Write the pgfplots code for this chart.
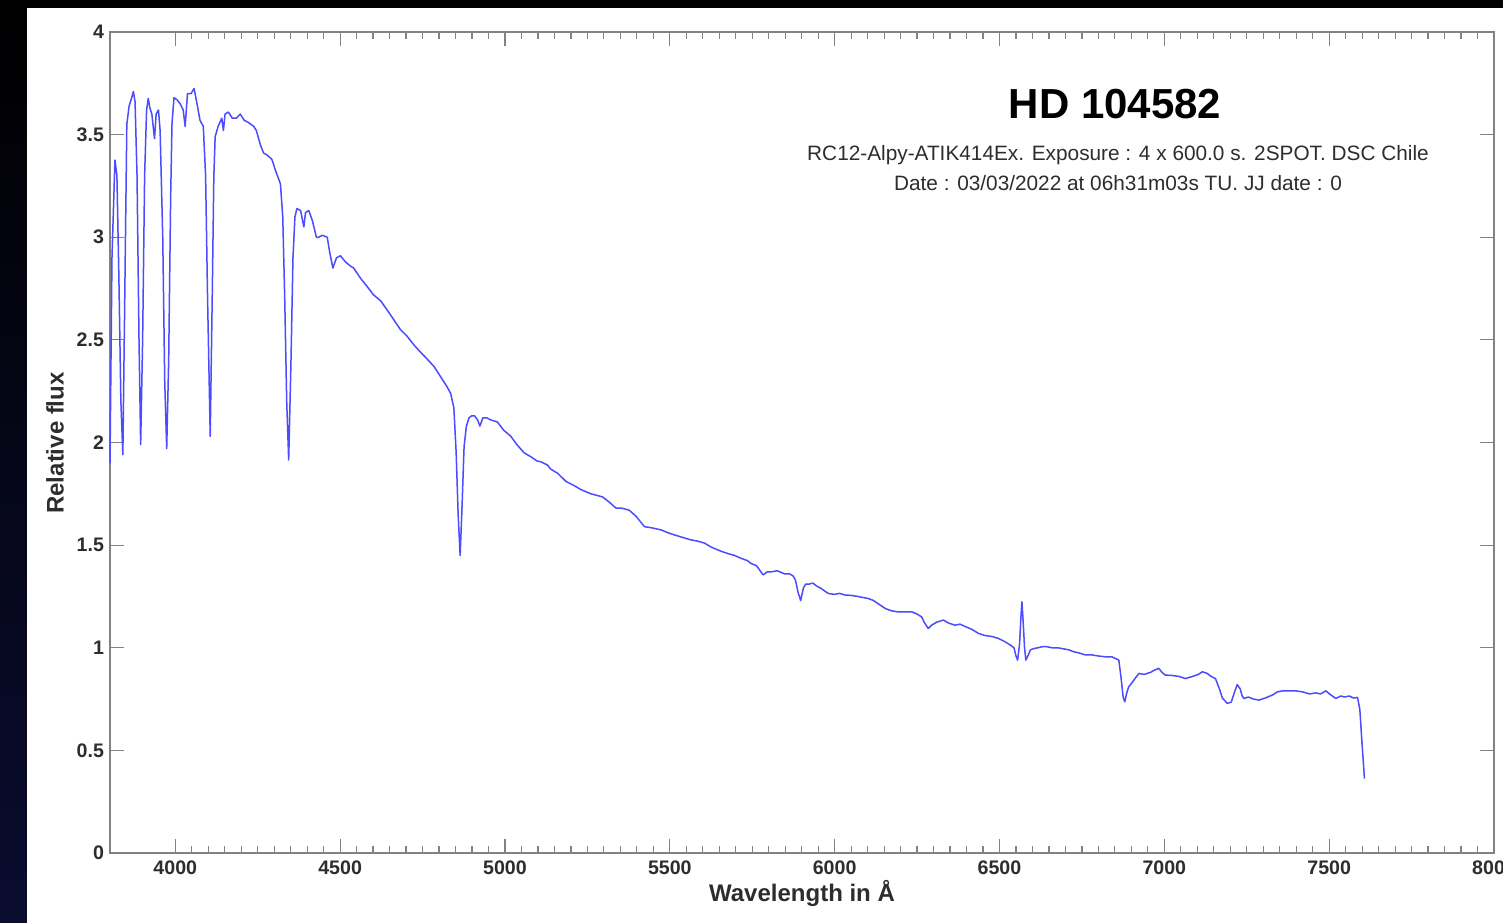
\documentclass[border=0pt]{standalone}
\usepackage{pgfplots}
\pgfplotsset{compat=1.18}
\usepackage{fontspec}
\setmainfont{Liberation Sans}
\definecolor{specblue}{RGB}{75,75,255}
\definecolor{axgray}{RGB}{130,130,130}
\definecolor{txtgray}{RGB}{45,45,45}
\definecolor{navy}{RGB}{10,12,48}
\begin{document}
\begin{tikzpicture}
\path[use as bounding box] (-55pt,-34.5pt) rectangle (696.5pt,426.5pt);
\fill[black] (-55pt,-34.5pt) rectangle (696.5pt,426.5pt);
\shade[top color=black, bottom color=navy] (-55pt,-34.5pt) rectangle (-41.5pt,426.5pt);
\fill[white] (-41.5pt,-34.5pt) rectangle (696.5pt,422.5pt);
\begin{axis}[
  scale only axis,
  width=692pt, height=410.5pt,
  xmin=3802, xmax=8000, ymin=0, ymax=4,
  xtick={4000,4500,5000,5500,6000,6500,7000,7500,8000},
  ytick={0,0.5,1,1.5,2,2.5,3,3.5,4},
  yticklabels={0,0.5,1,1.5,2,2.5,3,3.5,4},
  xticklabels={4000,4500,5000,5500,6000,6500,7000,7500,8000},
  minor x tick num=9,
  tick align=inside,
  major tick length=7pt,
  minor tick length=3.5pt,
  tick style={axgray, line width=0.6pt},
  axis line style={axgray, line width=0.9pt},
  ticklabel style={font=\fontsize{9.8}{11}\selectfont\bfseries, text=txtgray},
  xticklabel style={yshift=-0.5pt},
  yticklabel style={xshift=0.5pt},
  xlabel={Wavelength in Å},
  ylabel={Relative flux},
  label style={font=\fontsize{12}{14}\selectfont\bfseries, text=txtgray},
  xlabel style={at={(axis description cs:0.5,-0.0487)}, anchor=center},
  ylabel style={at={(axis description cs:-0.0397,0.4994)}, anchor=center, rotate=0},
  clip=false,
]
\addplot[specblue, line width=0.75pt, line join=round] coordinates {
(3802,1.90) (3808,2.90) (3817,3.376) (3823,3.30) (3829,2.80) (3835,2.20) (3841,1.94) (3846,2.60)
(3853,3.55) (3860,3.64) (3866,3.67) (3873,3.71) (3878,3.66) (3884,3.30) (3890,2.50) (3895,1.99)
(3901,2.50) (3907,3.30) (3913,3.62) (3918,3.676) (3923,3.63) (3929,3.60) (3937,3.48) (3942,3.60)
(3949,3.62) (3954,3.52) (3962,3.00) (3968,2.30) (3974,1.97) (3980,2.40) (3986,3.20) (3990,3.55)
(3996,3.68) (4005,3.67) (4015,3.65) (4024,3.62) (4030,3.54) (4037,3.70) (4048,3.70) (4057,3.725)
(4066,3.65) (4075,3.57) (4085,3.54) (4092,3.30) (4098,2.70) (4106,2.03) (4112,2.70) (4117,3.30)
(4121,3.49) (4130,3.54) (4141,3.58) (4146,3.52) (4151,3.60) (4161,3.61) (4173,3.58) (4185,3.58)
(4197,3.60) (4209,3.57) (4221,3.56) (4238,3.54) (4246,3.52) (4258,3.45) (4268,3.41) (4279,3.40)
(4293,3.38) (4303,3.33) (4319,3.26) (4326,3.10) (4332,2.70) (4338,2.20) (4344,1.915) (4351,2.40)
(4357,2.90) (4363,3.10) (4369,3.14) (4380,3.13) (4390,3.05) (4395,3.12) (4405,3.13) (4416,3.08)
(4428,3.00) (4435,3.00) (4446,3.01) (4461,3.00) (4468,2.93) (4478,2.85) (4489,2.90) (4501,2.91)
(4516,2.88) (4531,2.86) (4541,2.85) (4562,2.80) (4582,2.76) (4601,2.72) (4623,2.69) (4643,2.645)
(4662,2.60) (4683,2.55) (4702,2.52) (4724,2.475) (4744,2.44) (4762,2.41) (4785,2.37) (4805,2.32)
(4825,2.27) (4835,2.24) (4845,2.17) (4852,1.95) (4858,1.65) (4864,1.45) (4869,1.65) (4876,1.98)
(4883,2.08) (4891,2.12) (4899,2.13) (4908,2.13) (4917,2.11) (4924,2.08) (4933,2.12) (4945,2.12)
(4957,2.11) (4977,2.10) (4996,2.06) (5018,2.03) (5036,1.99) (5058,1.95) (5079,1.93) (5097,1.91)
(5109,1.906) (5129,1.89) (5139,1.87) (5160,1.85) (5185,1.81) (5210,1.79) (5231,1.77) (5261,1.75)
(5296,1.735) (5316,1.71) (5337,1.68) (5355,1.68) (5377,1.67) (5398,1.64) (5423,1.59) (5443,1.585)
(5474,1.574) (5495,1.56) (5514,1.55) (5534,1.54) (5565,1.525) (5583,1.52) (5605,1.51) (5626,1.49)
(5656,1.47) (5674,1.46) (5696,1.45) (5717,1.435) (5735,1.425) (5747,1.41) (5763,1.40) (5783,1.355)
(5796,1.37) (5808,1.37) (5826,1.375) (5848,1.36) (5863,1.36) (5874,1.35) (5881,1.33) (5889,1.27)
(5897,1.23) (5905,1.29) (5912,1.31) (5922,1.31) (5934,1.315) (5946,1.30) (5958,1.29) (5980,1.265)
(5999,1.26) (6015,1.265) (6031,1.257) (6051,1.255) (6070,1.25) (6085,1.245) (6102,1.24) (6118,1.23)
(6136,1.21) (6155,1.19) (6173,1.18) (6191,1.175) (6212,1.175) (6234,1.175) (6249,1.165) (6264,1.15)
(6273,1.12) (6284,1.094) (6294,1.11) (6310,1.125) (6330,1.135) (6346,1.12) (6365,1.11) (6380,1.115)
(6401,1.10) (6416,1.09) (6436,1.07) (6455,1.06) (6477,1.055) (6497,1.045) (6516,1.03) (6531,1.015)
(6544,1.00) (6550,0.96) (6555,0.94) (6561,1.02) (6565,1.15) (6568,1.224) (6571,1.15) (6576,1.00)
(6580,0.94) (6586,0.96) (6594,0.99) (6604,0.996) (6617,1.00) (6629,1.005) (6644,1.005) (6659,1.00)
(6677,1.00) (6693,0.995) (6710,0.99) (6726,0.98) (6741,0.975) (6760,0.965) (6781,0.965) (6799,0.96)
(6821,0.956) (6842,0.955) (6862,0.94) (6869,0.85) (6875,0.76) (6880,0.737) (6886,0.78) (6892,0.81)
(6902,0.83) (6911,0.85) (6923,0.875) (6939,0.87) (6958,0.88) (6969,0.89) (6983,0.90) (6993,0.88)
(7003,0.867) (7024,0.865) (7045,0.86) (7064,0.85) (7085,0.86) (7103,0.87) (7115,0.883) (7130,0.875)
(7142,0.86) (7155,0.85) (7167,0.80) (7176,0.755) (7191,0.729) (7203,0.735) (7212,0.78) (7221,0.82)
(7230,0.80) (7236,0.765) (7242,0.753) (7255,0.76) (7270,0.75) (7287,0.745) (7306,0.755) (7328,0.77)
(7343,0.785) (7358,0.79) (7380,0.79) (7399,0.79) (7419,0.785) (7440,0.775) (7459,0.78) (7474,0.775)
(7490,0.79) (7501,0.775) (7520,0.753) (7535,0.765) (7547,0.76) (7561,0.765) (7574,0.755) (7586,0.758)
(7593,0.70) (7599,0.55) (7607,0.363)
};
\end{axis}
\node[font=\fontsize{21}{24}\selectfont\bfseries, text=black] at (502.5pt,374.5pt) {HD 104582};
\node[font=\fontsize{10.4}{12}\selectfont, text=txtgray] at (504pt,349pt) {RC12-Alpy-ATIK414Ex. Exposure : 4 x 600.0 s. 2SPOT. DSC Chile};
\node[font=\fontsize{10.4}{12}\selectfont, text=txtgray] at (504pt,335pt) {Date : 03/03/2022 at 06h31m03s TU. JJ date : 0};
\end{tikzpicture}
\end{document}
